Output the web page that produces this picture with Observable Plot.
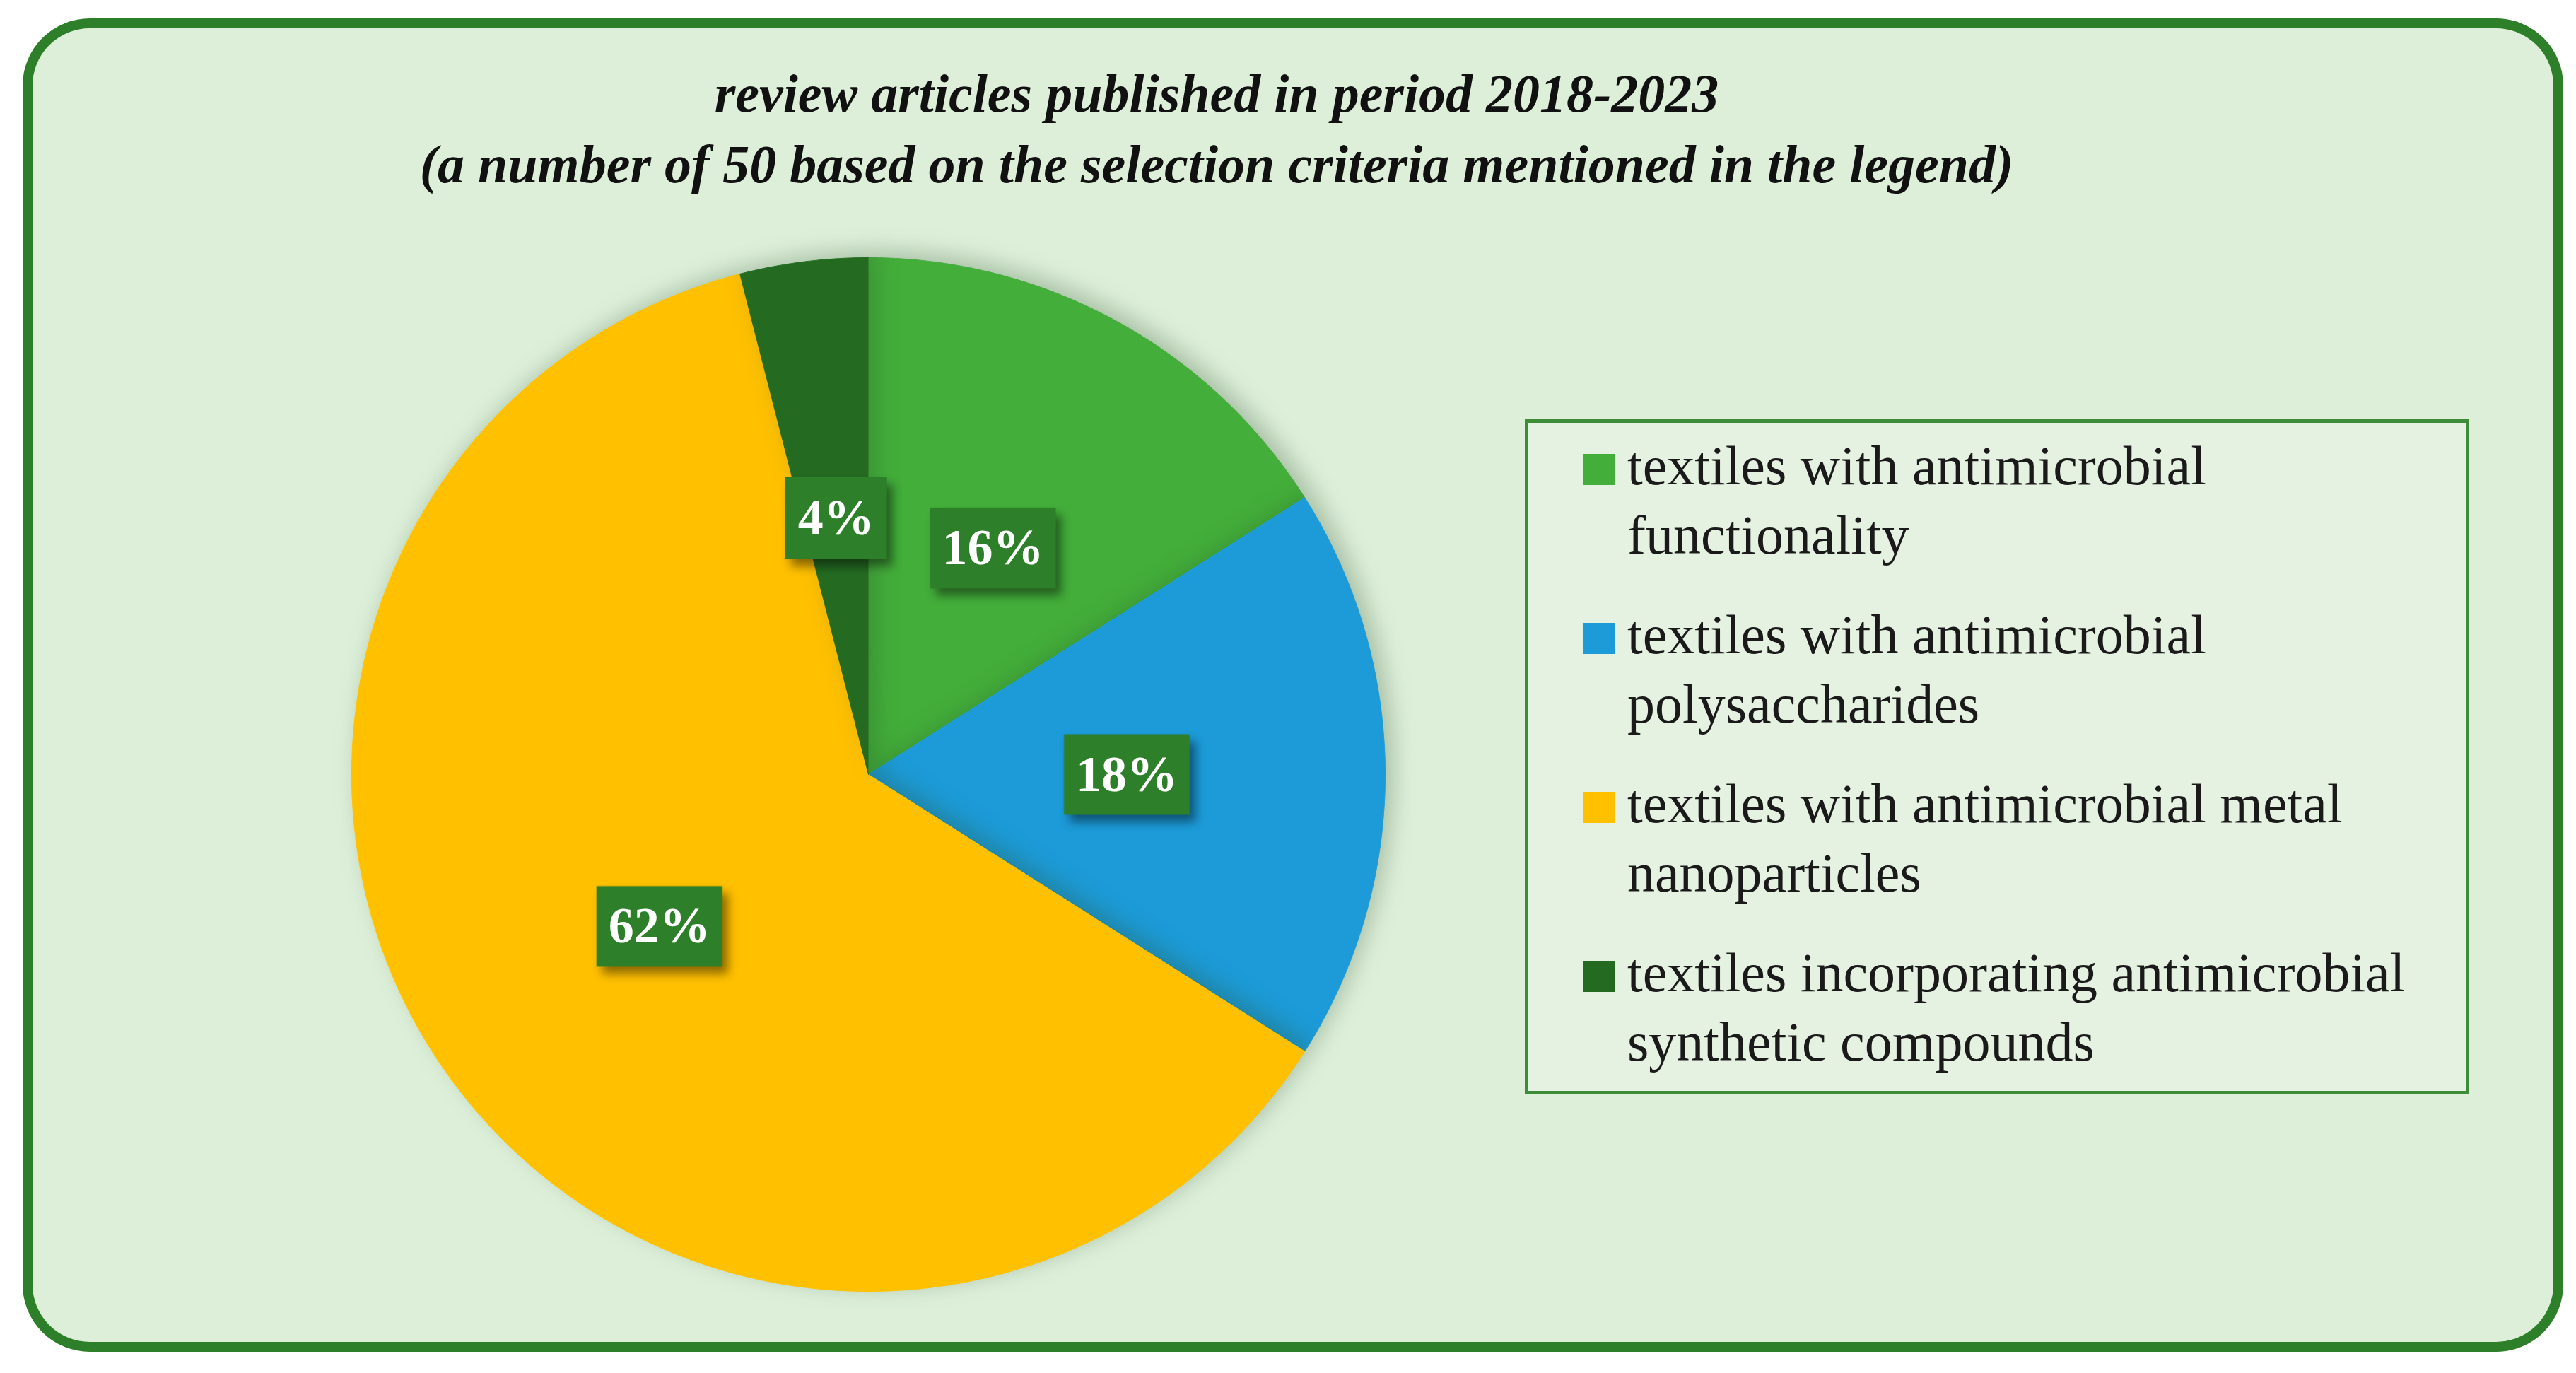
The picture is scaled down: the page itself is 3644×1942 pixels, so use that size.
<!DOCTYPE html>
<html>
<head>
<meta charset="utf-8">
<script src="https://cdn.jsdelivr.net/npm/d3@7"></script>
<script src="https://cdn.jsdelivr.net/npm/@observablehq/plot@0.6"></script>
<style>
  html, body { margin: 0; padding: 0; background: #ffffff; }
  #page { position: relative; width: 3644px; height: 1942px; overflow: hidden; background: #ffffff; }
  #frame { position: absolute; left: 32px; top: 26px; width: 3594px; height: 1886px; box-sizing: border-box;
           border: 14px solid #2E7F2A; border-radius: 95px; background: #DDEFD9; }
  .title { position: absolute; left: 0; width: 3442px; text-align: center; font-family: "Liberation Serif", serif;
           font-style: italic; font-weight: bold; font-size: 76px; color: #111; white-space: nowrap; line-height: 100px; }
  #legend { position: absolute; left: 2157px; top: 593px; width: 1336px; height: 955px; box-sizing: border-box;
            border: 5px solid #3C8C38; background: #E5F1E1; }
  .item { position: absolute; left: 2302px; font-family: "Liberation Serif", serif; font-size: 78px; line-height: 98px;
          color: #1a1a1a; white-space: pre; }
  .sw { position: absolute; left: -62px; top: 32px; width: 44px; height: 44px; }
  #chart { position: absolute; left: 0; top: 0; }
</style>
</head>
<body>
<div id="page">
  <div id="frame"></div>
  <div id="chart"></div>
  <div id="legend"></div>
</div>
<script>
// ---- data ----
const titleLines = [
  "review articles published in period 2018-2023",
  "(a number of 50 based on the selection criteria mentioned in the legend)"
];
const categories = [
  "textiles with antimicrobial\nfunctionality",
  "textiles with antimicrobial\npolysaccharides",
  "textiles with antimicrobial metal\nnanoparticles",
  "textiles incorporating antimicrobial\nsynthetic compounds"
];
const values = [16, 18, 62, 4];
const valueLabels = ["16%", "18%", "62%", "4%"];
const colors = ["#43AE3A", "#1C9BD8", "#FFC000", "#246B21"];

// ---- title ----
const page = document.getElementById("page");
titleLines.forEach((t, i) => {
  const d = document.createElement("div");
  d.className = "title";
  d.style.top = (82 + i * 100) + "px";
  d.textContent = t;
  page.appendChild(d);
});

// ---- legend ----
categories.forEach((c, i) => {
  const d = document.createElement("div");
  d.className = "item";
  d.style.top = (610 + i * 239) + "px";
  d.textContent = c;
  const s = document.createElement("div");
  s.className = "sw";
  s.style.background = colors[i];
  d.appendChild(s);
  page.appendChild(d);
});

// ---- pie ----
const rows = categories.map((c, i) => ({category: c, value: values[i], label: valueLabels[i], color: colors[i]}));
const arcs = d3.pie().sort(null).value(d => d.value)(rows);
const step = Math.PI / 720;
const slices = arcs.map(a => {
  const pts = [{x: 0, y: 0}];
  const n = Math.max(2, Math.ceil((a.endAngle - a.startAngle) / step));
  for (let k = 0; k <= n; k++) {
    const t = a.startAngle + (a.endAngle - a.startAngle) * k / n;
    pts.push({x: Math.sin(t), y: Math.cos(t)});
  }
  return {color: a.data.color, pts};
});
const labelPos = arcs.map(a => {
  const m = (a.startAngle + a.endAngle) / 2;
  return {x: 0.5 * Math.sin(m), y: 0.5 * Math.cos(m), label: a.data.label};
});
const rectSymbol = (w, h) => ({draw(ctx) { ctx.rect(-w / 2, -h / 2, w, h); }});

const plot = Plot.plot({
  width: 3644,
  height: 1942,
  margin: 0,
  x: {domain: [-1, 1], range: [497, 1959], axis: null},
  y: {domain: [-1, 1], range: [1826, 364], axis: null},
  style: {background: "transparent", overflow: "visible"},
  marks: [
    ...slices.map(s => Plot.line(s.pts, {x: "x", y: "y", fill: s.color, stroke: s.color, strokeWidth: 1})),
    Plot.dot(labelPos.filter(d => d.label.length > 2), {x: "x", y: "y", symbol: rectSymbol(178, 114), fill: "#2E7F2A", stroke: null}),
    Plot.dot(labelPos.filter(d => d.label.length <= 2), {x: "x", y: "y", symbol: rectSymbol(144, 116), fill: "#2E7F2A", stroke: null}),
    Plot.text(labelPos, {x: "x", y: "y", text: "label", fill: "white", fontSize: 72, fontWeight: "bold",
                         fontFamily: "Liberation Serif, serif"})
  ]
});
document.getElementById("chart").appendChild(plot);
plot.querySelectorAll('g[aria-label="line"]').forEach(g => g.style.filter = "drop-shadow(10px -8px 16px rgba(40,80,40,0.3))");
plot.querySelectorAll('g[aria-label="dot"]').forEach(g => g.style.filter = "drop-shadow(8px 10px 7px rgba(0,0,0,0.45))");
</script>
</body>
</html>
